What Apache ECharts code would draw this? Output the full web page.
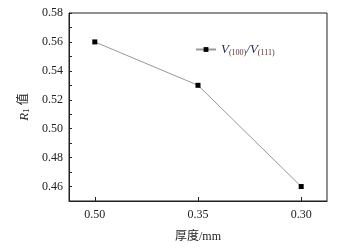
<!DOCTYPE html>
<html><head><meta charset="utf-8">
<script src="https://cdn.jsdelivr.net/npm/echarts@6/dist/echarts.min.js"></script>
<style>html,body{margin:0;padding:0;background:#fff}#c{width:362px;height:248px}</style>
</head><body><div id="c"></div>
<script>
const categories = ['0.50', '0.35', '0.30'];
const ratioValues = [0.56, 0.53, 0.46];
const yTickLabels = ['0.46','0.48','0.50','0.52','0.54','0.56','0.58'];

const serif = 'Liberation Serif, Noto Sans CJK SC, serif';
const chart = echarts.init(document.getElementById('c'));
chart.setOption({
  animation: false,
  backgroundColor: '#fff',
  grid: {left: 69, right: 35, top: 13, bottom: 44, show: true, borderColor: '#222', borderWidth: 1},
  legend: {
    left: 190, top: 38, itemWidth: 20, itemHeight: 6, itemGap: 4,
    data: [{name: 'ratio'}],
    formatter: () => '{v|V}{s|(100)}{v|/V}{s|(111)}',
    textStyle: {
      rich: {
        v: {fontFamily: serif, fontStyle: 'italic', fontSize: 13, color: '#1e2a55'},
        s: {fontFamily: serif, fontSize: 8, color: '#5a3030', verticalAlign: 'bottom', padding: [6,0,0,0]}
      }
    }
  },
  xAxis: {
    type: 'value', min: -0.25, max: 2.25,
    name: '厚度/mm', nameLocation: 'middle', nameGap: 30,
    nameTextStyle: {fontFamily: serif, fontSize: 12, color: '#222'},
    axisLine: {onZero: false, lineStyle: {color: '#222'}},
    axisTick: {inside: true, length: 4, customValues: [0,1,2], lineStyle: {color: '#222'}},
    axisLabel: {customValues: [0,1,2], formatter: v => categories[Math.round(v)], fontFamily: serif, fontSize: 12, color: '#222', margin: 8},
    splitLine: {show: false}
  },
  yAxis: {
    type: 'value', min: 0.45, max: 0.58, interval: 0.01,
    name: '{i|R}{s|1}{n| 值}', nameLocation: 'middle', nameGap: 36, nameRotate: 90,
    nameTextStyle: {
      rich: {
        i: {fontFamily: serif, fontStyle: 'italic', fontSize: 13, color: '#222'},
        s: {fontFamily: serif, fontSize: 9, color: '#222', verticalAlign: 'bottom', padding: [5,0,0,0]},
        n: {fontFamily: serif, fontSize: 12, color: '#222'}
      }
    },
    axisLine: {onZero: false, lineStyle: {color: '#222'}},
    axisTick: {inside: true, length: 3, lineStyle: {color: '#222'}},
    axisLabel: {
      formatter: v => {const s = v.toFixed(2); return yTickLabels.includes(s) ? s : '';},
      fontFamily: serif, fontSize: 12, color: '#222', margin: 6
    },
    splitLine: {show: false}
  },
  series: [{
    name: 'ratio', type: 'line',
    data: ratioValues.map((v, i) => [i, v]),
    symbol: 'rect', symbolSize: 5,
    lineStyle: {color: '#999', width: 1},
    itemStyle: {color: '#000'}
  }]
});
</script></body></html>
